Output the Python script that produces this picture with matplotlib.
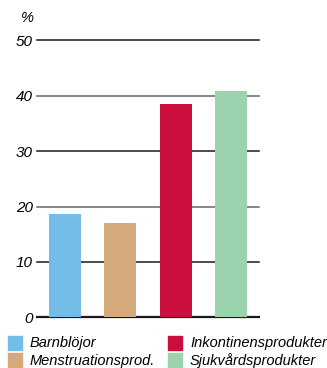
import matplotlib
matplotlib.use("Agg")
import matplotlib.pyplot as plt
from matplotlib.patches import Rectangle

categories = ["Barnblöjor", "Menstruationsprod.", "Inkontinensprodukter", "Sjukvårdsprodukter"]
values = [18.7, 17.1, 38.5, 40.9]
colors = ["#74BDE8", "#D4AA7D", "#CC0E3F", "#9BD3AE"]
yticks = [0, 10, 20, 30, 40, 50]

plt.rcParams["font.family"] = ["Liberation Sans", "DejaVu Sans"]

W, H = 327, 368
fig = plt.figure(figsize=(W / 100, H / 100), dpi=100)
ax = fig.add_axes([37 / W, (H - 317.3) / H, 222 / W, 277 / H])

# horizontal grid lines drawn first, bars on top
for t in yticks:
    ax.axhline(t, color="#666666" if t in (20, 40) else "#1a1a1a",
               linewidth=1.6 if t == 0 else 1.1, zorder=1, clip_on=False)

x = list(range(len(values)))
ax.bar(x, values, width=0.58, color=colors, zorder=2)

ax.set_xlim(-0.506, 3.506)
ax.set_ylim(0, 50)
for s in ax.spines.values():
    s.set_visible(False)
ax.set_xticks([])
ax.set_yticks(yticks)
ax.set_yticklabels([str(t) for t in yticks], fontstyle="italic", fontsize=11)
ax.tick_params(axis="y", length=0, pad=3)

fig.text(27 / W, 1 - 18 / H, "%", fontstyle="italic", fontsize=10.5, ha="center", va="center")

# legend, two columns
legend_pos = [(8, 336), (8, 353), (168, 336), (168, 353)]
for (lx, ly), lab, c in zip(legend_pos, categories, colors):
    fig.add_artist(Rectangle((lx / W, 1 - (ly + 14) / H), 14 / W, 14 / H,
                             transform=fig.transFigure, color=c))
    fig.text((lx + 22) / W, 1 - (ly + 7.5) / H, lab, fontstyle="italic",
             fontsize=10.5, ha="left", va="center")

fig.savefig("out.png", dpi=100)
